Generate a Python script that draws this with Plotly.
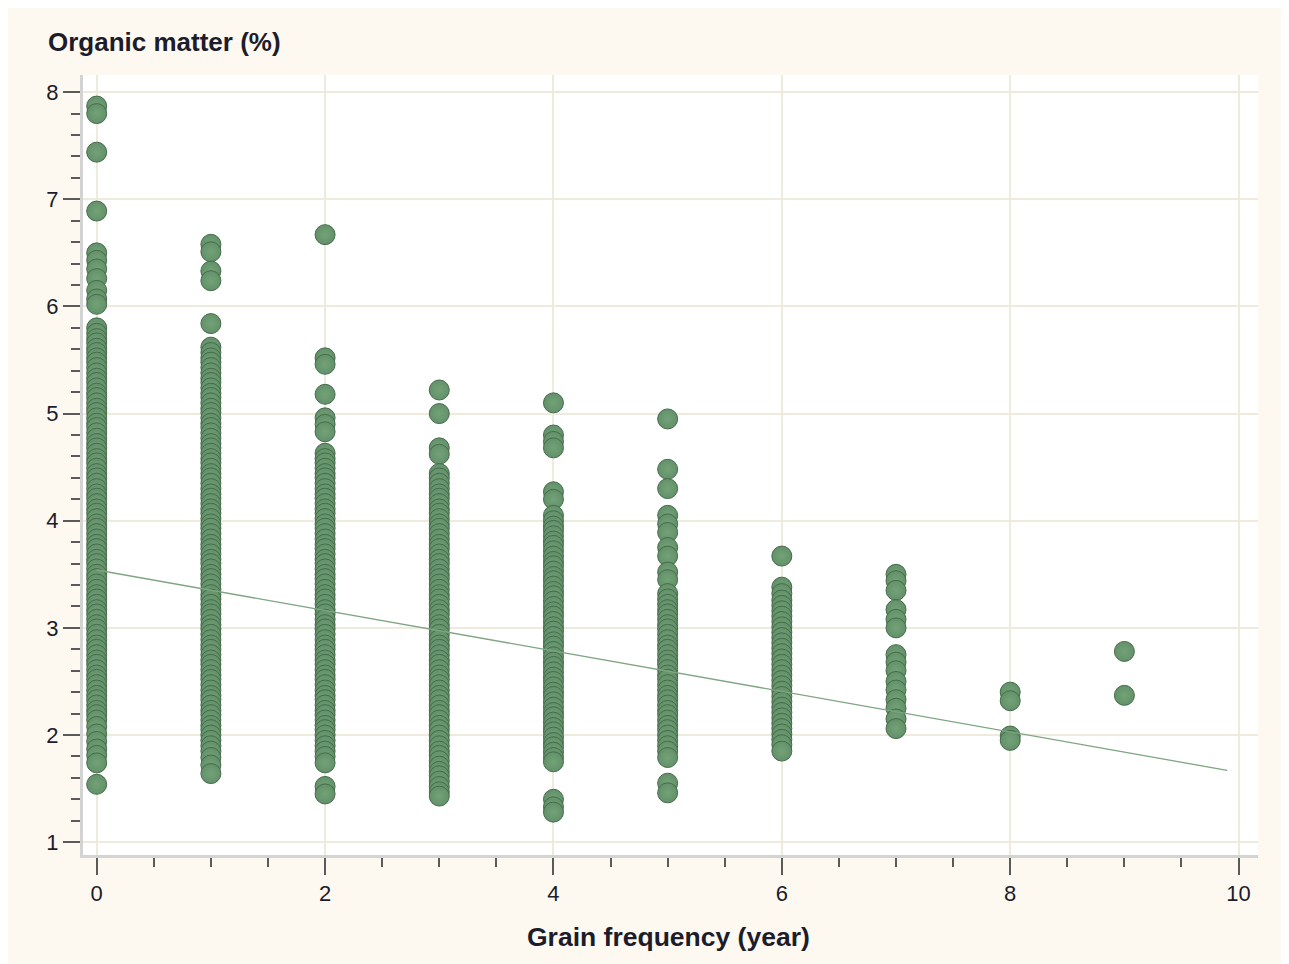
import plotly.graph_objects as go

# ---- data ----
GRAIN_YEARS = [0, 1, 2, 3, 4, 5, 6, 7, 8, 9]

OM_0 = [7.87, 7.80, 7.44, 6.89, 6.50, 6.43, 6.35, 6.26, 6.15, 6.07, 6.02,
        5.80, 5.75, 5.70, 5.66, 5.61, 5.57, 5.52, 5.48, 5.43, 5.38, 5.33, 5.29,
        5.24, 5.19, 5.15, 5.10, 5.05, 5.01, 4.96, 4.91, 4.87, 4.82, 4.77, 4.72,
        4.68, 4.63, 4.58, 4.54, 4.49, 4.44, 4.40, 4.35, 4.30, 4.25, 4.21, 4.16,
        4.11, 4.07, 4.02, 3.97, 3.93, 3.88, 3.83, 3.78, 3.74, 3.69, 3.64, 3.60,
        3.55, 3.50, 3.46, 3.41, 3.36, 3.31, 3.27, 3.22, 3.17, 3.13, 3.08, 3.03,
        2.99, 2.94, 2.89, 2.84, 2.80, 2.75, 2.70, 2.66, 2.61, 2.56, 2.52, 2.47,
        2.42, 2.37, 2.33, 2.28, 2.23, 2.19, 2.14, 2.08, 2.01, 1.94, 1.87, 1.81,
        1.74, 1.54]
OM_1 = [6.58, 6.51, 6.33, 6.24, 5.84, 5.62, 5.57, 5.52, 5.48, 5.43, 5.38,
        5.33, 5.29, 5.24, 5.19, 5.15, 5.10, 5.05, 5.01, 4.96, 4.91, 4.87, 4.82,
        4.77, 4.72, 4.68, 4.63, 4.58, 4.54, 4.49, 4.44, 4.40, 4.35, 4.30, 4.25,
        4.21, 4.16, 4.11, 4.07, 4.02, 3.97, 3.93, 3.88, 3.83, 3.78, 3.74, 3.69,
        3.64, 3.60, 3.55, 3.50, 3.46, 3.41, 3.36, 3.31, 3.27, 3.22, 3.17, 3.13,
        3.08, 3.03, 2.99, 2.94, 2.89, 2.84, 2.80, 2.75, 2.70, 2.66, 2.61, 2.56,
        2.52, 2.47, 2.42, 2.37, 2.33, 2.28, 2.23, 2.19, 2.14, 2.09, 2.05, 2.00,
        1.95, 1.90, 1.85, 1.79, 1.72, 1.64]
OM_2 = [6.67, 5.52, 5.46, 5.18, 4.96, 4.90, 4.83, 4.63, 4.58, 4.54, 4.49,
        4.44, 4.40, 4.35, 4.30, 4.25, 4.21, 4.16, 4.11, 4.07, 4.02, 3.97, 3.93,
        3.88, 3.83, 3.78, 3.74, 3.69, 3.64, 3.60, 3.55, 3.50, 3.46, 3.41, 3.36,
        3.31, 3.27, 3.22, 3.17, 3.13, 3.08, 3.03, 2.99, 2.94, 2.89, 2.84, 2.80,
        2.75, 2.70, 2.66, 2.61, 2.56, 2.52, 2.47, 2.42, 2.37, 2.33, 2.28, 2.23,
        2.19, 2.14, 2.09, 2.05, 2.00, 1.95, 1.90, 1.85, 1.80, 1.74, 1.52, 1.45]
OM_3 = [5.22, 5.00, 4.68, 4.62, 4.44, 4.40, 4.35, 4.30, 4.25, 4.21, 4.16,
        4.11, 4.07, 4.02, 3.97, 3.93, 3.88, 3.83, 3.78, 3.74, 3.69, 3.64, 3.60,
        3.55, 3.50, 3.46, 3.41, 3.36, 3.31, 3.27, 3.22, 3.17, 3.13, 3.08, 3.03,
        2.99, 2.94, 2.89, 2.84, 2.80, 2.75, 2.70, 2.66, 2.61, 2.56, 2.52, 2.47,
        2.42, 2.37, 2.33, 2.28, 2.23, 2.19, 2.14, 2.09, 2.05, 2.00, 1.95, 1.90,
        1.85, 1.81, 1.76, 1.71, 1.66, 1.62, 1.57, 1.52, 1.47, 1.43]
OM_4 = [5.10, 4.80, 4.74, 4.68, 4.27, 4.20, 4.05, 4.00, 3.95, 3.91, 3.86,
        3.81, 3.77, 3.72, 3.67, 3.62, 3.58, 3.53, 3.48, 3.44, 3.39, 3.34, 3.30,
        3.25, 3.20, 3.15, 3.11, 3.06, 3.01, 2.97, 2.92, 2.87, 2.83, 2.78, 2.73,
        2.68, 2.64, 2.59, 2.54, 2.50, 2.45, 2.40, 2.36, 2.31, 2.26, 2.21, 2.17,
        2.12, 2.07, 2.03, 1.98, 1.93, 1.89, 1.84, 1.79, 1.75, 1.40, 1.33, 1.28]
OM_5 = [4.95, 4.48, 4.30, 4.05, 3.97, 3.89, 3.75, 3.67, 3.52, 3.45, 3.32,
        3.27, 3.22, 3.17, 3.13, 3.08, 3.03, 2.99, 2.94, 2.89, 2.84, 2.80, 2.75,
        2.70, 2.66, 2.61, 2.56, 2.52, 2.47, 2.42, 2.37, 2.33, 2.28, 2.23, 2.19,
        2.14, 2.09, 2.05, 2.00, 1.95, 1.90, 1.85, 1.79, 1.55, 1.46]
OM_6 = [3.67, 3.38, 3.32, 3.26, 3.21, 3.16, 3.11, 3.06, 3.01, 2.96, 2.91,
        2.86, 2.81, 2.76, 2.71, 2.66, 2.61, 2.56, 2.51, 2.46, 2.41, 2.36, 2.31,
        2.26, 2.21, 2.16, 2.11, 2.06, 2.01, 1.96, 1.91, 1.85]
OM_7 = [3.50, 3.44, 3.35, 3.17, 3.08, 3.00, 2.75, 2.68, 2.60, 2.50, 2.42,
        2.33, 2.25, 2.15, 2.06]
OM_8 = [2.40, 2.32, 1.99, 1.95]
OM_9 = [2.78, 2.37]

OM_BY_YEAR = [OM_0, OM_1, OM_2, OM_3, OM_4, OM_5, OM_6, OM_7, OM_8, OM_9]

# fitted regression line end points
FIT_X = [0, 9.9]
FIT_Y = [3.54, 1.67]

X_TICKS = [0, 2, 4, 6, 8, 10]
Y_TICKS = [1, 2, 3, 4, 5, 6, 7, 8]

# ---- styles ----
PAPER_BG = "#FDF9F1"
GRID = "#EFEBDC"
AXIS_LINE = "#D3D3D3"
TICK = "#5a5a5a"
MARKER_FILL = "#62916A"
MARKER_EDGE = "#466B49"
TEXT = "#1c1c2a"
FONT = "Liberation Sans, Arial, sans-serif"

W, H = 1281, 956   # page body adds an 8px offset

xs, ys = [], []
for yr, vals in zip(GRAIN_YEARS, OM_BY_YEAR):
    for v in vals:
        xs.append(yr)
        ys.append(v)

fig = go.Figure()
fig.add_trace(go.Scatter(
    x=xs, y=ys, mode="markers",
    marker=dict(size=20, color=MARKER_FILL,
                line=dict(color=MARKER_EDGE, width=1),
                gradient=dict(type="radial", color="#74A277")),
    showlegend=False,
))
fig.add_trace(go.Scatter(
    x=FIT_X, y=FIT_Y, mode="lines",
    line=dict(color="#7FA583", width=1.3),
    hoverinfo="skip", showlegend=False,
))

axis_common = dict(
    showgrid=True, gridcolor=GRID, gridwidth=1.5,
    showline=True, linecolor=AXIS_LINE, linewidth=3,
    ticks="outside", ticklen=17, tickwidth=2, tickcolor=TICK,
    tickfont=dict(family=FONT, size=22, color=TEXT),
    zeroline=False, mirror=False,
)

fig.update_xaxes(
    range=[-0.12, 10.17], tickvals=X_TICKS,
    minor=dict(dtick=0.5, ticks="outside", ticklen=9, tickwidth=2,
               tickcolor=TICK, showgrid=False),
    **axis_common,
)
fig.update_yaxes(
    range=[0.88, 8.16], tickvals=Y_TICKS,
    minor=dict(dtick=0.2, ticks="outside", ticklen=9, tickwidth=2,
               tickcolor=TICK, showgrid=False),
    **axis_common,
)

fig.update_layout(
    width=W, height=H,
    margin=dict(l=75, r=31, t=67, b=109),
    paper_bgcolor=PAPER_BG, plot_bgcolor="white",
    font=dict(family=FONT, color=TEXT),
    title=dict(text="<b>Organic matter (%)</b>", x=40 / W, xref="container",
               xanchor="left", y=1 - 34 / H, yref="container", yanchor="middle",
               font=dict(family=FONT, size=26, color=TEXT)),
    annotations=[dict(text="<b>Grain frequency (year)</b>", xref="paper", yref="paper",
                      x=0.498, y=-0.105, xanchor="center", yanchor="middle",
                      showarrow=False, font=dict(family=FONT, size=26.5, color=TEXT))],
)

fig.write_html("out.html")
